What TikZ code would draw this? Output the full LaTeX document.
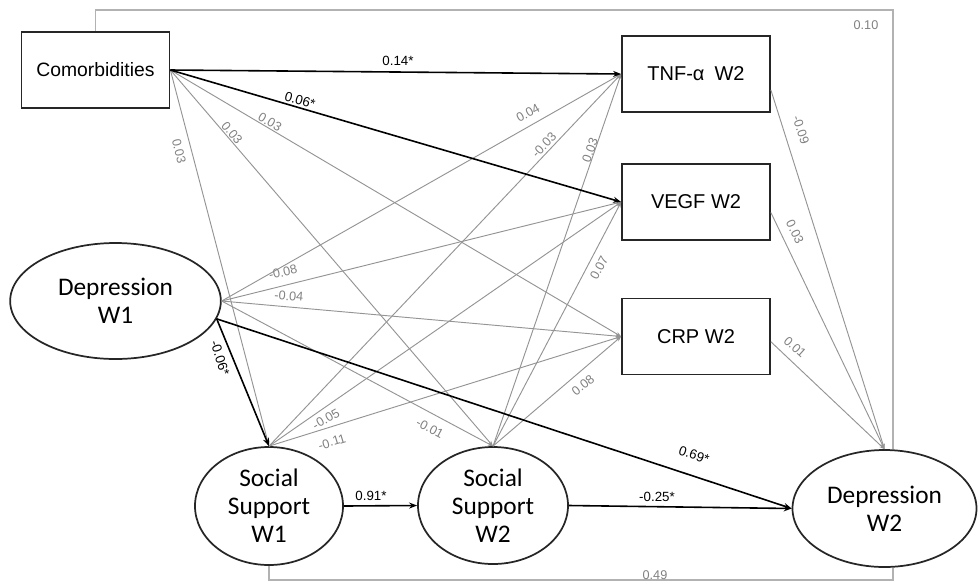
\documentclass[tikz,border=0pt]{standalone}
\usepackage{fontspec}
\setmainfont{Liberation Sans}
\newfontfamily\carl{Carlito}
\usetikzlibrary{shapes.geometric,arrows.meta}
\begin{document}
\begin{tikzpicture}[x=0.75pt,y=-0.75pt,
  box/.style={draw=black!85, line width=1.3pt, minimum width=111pt, minimum height=57pt, inner sep=0pt, font=\fontsize{15}{17}\selectfont},
  lat/.style={ellipse, draw=black!85, line width=1.3pt, inner sep=0pt, align=center, font=\carl\fontsize{19}{21}\selectfont},
  gl/.style={draw=black!42, line width=0.7pt, -{Stealth[length=4pt,width=3pt]}},
  bl/.style={draw=black, line width=1.2pt, -{Stealth[length=6pt,width=4.5pt]}},
  cov/.style={draw=black!30, line width=0.8pt},
  lab/.style={font=\fontsize{9.5}{11}\selectfont, text=black!50, inner sep=0.3pt},
  blab/.style={font=\fontsize{10}{12}\selectfont, text=black, inner sep=0.3pt}]
\useasboundingbox (0,0) rectangle (978,587);

% nodes
\node[box, font=\fontsize{14.5}{17}\selectfont] (cm) at (95.5,70) {Comorbidities};
\node[box] (tnf) at (696,74) {TNF-α\hspace{0.5em}W2};
\node[box] (vegf) at (696,202) {VEGF W2};
\node[box] (crp) at (696,336.5) {CRP W2};
\node[lat, minimum width=158pt, minimum height=87pt] (dw1) at (115.5,301) {Depression\\W1};
\node[lat, minimum width=111pt, minimum height=88.5pt] (ss1) at (269,506) {Social\\Support\\W1};
\node[lat, minimum width=112.5pt, minimum height=87.75pt] (ss2) at (493,505.5) {Social\\Support\\W2};
\node[lat, minimum width=138pt, minimum height=87.75pt] (dw2) at (884.5,508.5) {Depression\\W2};

% covariances
\coordinate (tr) at (893,10);
\coordinate (br) at (893,580);
\draw[cov] (cm.north) |- (tr) -- (tr |- dw2.north);
\draw[cov] (ss1.south) |- (br) -- (br |- dw2.south);

% gray paths
\draw[gl] (cm.east) -- (crp.west);
\draw[gl] (cm.east) -- (ss1.north);
\draw[gl] (cm.east) -- (ss2.north);
\draw[gl] (dw1.east) -- (tnf.west);
\draw[gl] (dw1.east) -- (vegf.west);
\draw[gl] (dw1.east) -- (crp.west);
\draw[gl] (dw1.east) -- (ss2.north);
\draw[gl] (ss1.north) -- (tnf.west);
\draw[gl] (ss1.north) -- (vegf.west);
\draw[gl] (ss1.north) -- (crp.west);
\draw[gl] (ss2.north) -- (tnf.west);
\draw[gl] (ss2.north) -- (vegf.west);
\draw[gl] (ss2.north) -- (crp.west);
\draw[gl] (tnf.-12) -- (dw2.north);
\draw[gl] (vegf.-8) -- (dw2.north);
\draw[gl] (crp.-4) -- (dw2.north);

% black paths
\draw[bl] (cm.east) -- (tnf.west);
\draw[bl] (cm.east) -- (vegf.west);
\draw[bl] (dw1.-10) -- (ss1.north);
\draw[bl] (dw1.-10) -- (dw2.west);
\draw[bl] (ss1.east) -- (ss2.west);
\draw[bl] (ss2.east) -- (dw2.west);

% labels
\node[blab] (l1) at (398,61) {0.14*};
\node[blab, rotate=-16] (l2) at (300,100) {0.06*};
\node[lab, rotate=-76] (l3) at (179,151) {0.03};
\node[lab, rotate=-50] (l4) at (232,133) {0.03};
\node[lab, rotate=-31] (l5) at (270,122) {0.03};
\node[lab, rotate=29] (l6) at (528,113) {0.04};
\node[lab, rotate=46] (l7) at (544,145) {-0.03};
\node[lab, rotate=70] (l8) at (590,150) {0.03};
\node[lab, rotate=-72] (l9) at (801,130) {-0.09};
\node[lab, rotate=-64] (l10) at (795,232) {0.03};
\node[lab, rotate=-42] (l11) at (795,347) {0.01};
\node[lab] (l12) at (866,25) {0.10};
\node[lab, rotate=14] (l13) at (283,272) {-0.08};
\node[lab, rotate=-5] (l14) at (289,296) {-0.04};
\node[blab, rotate=-72] (l15) at (220,358) {-0.06*};
\node[lab, rotate=62] (l16) at (599,268) {0.07};
\node[lab, rotate=39] (l17) at (583,385) {0.08};
\node[lab, rotate=30] (l18) at (326,419) {-0.05};
\node[lab, rotate=17] (l19) at (332,442) {-0.11};
\node[lab, rotate=-28] (l20) at (430,428) {-0.01};
\node[blab] (l21) at (371,496) {0.91*};
\node[blab] (l22) at (657,497) {-0.25*};
\node[blab, rotate=-19] (l23) at (694,455) {0.69*};
\node[lab] (l24) at (655,575) {0.49};
\end{tikzpicture}
\end{document}
